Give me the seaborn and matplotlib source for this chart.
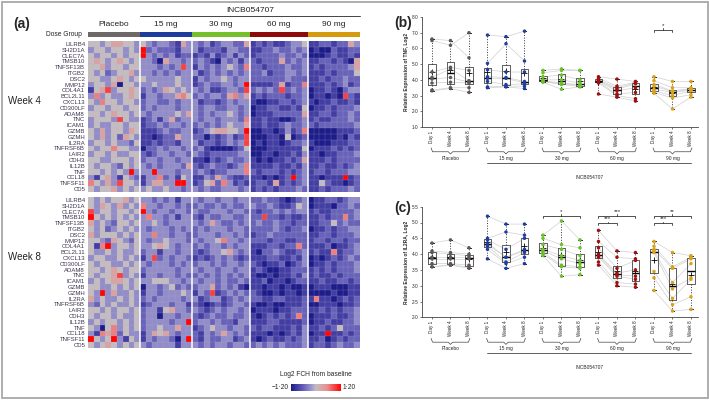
import numpy as np
import pandas as pd
import matplotlib
matplotlib.use("Agg")
import matplotlib.pyplot as plt
import matplotlib.transforms as mtransforms
from matplotlib.colors import LinearSegmentedColormap, ListedColormap
from matplotlib.patches import Rectangle
import seaborn as sns

sns.set_theme(style="white")
plt.rcParams['font.family'] = ['Liberation Sans', 'DejaVu Sans']

# ---------------- data ----------------
genes = ["LILRB4", "SH2D1A", "CLEC7A", "TMSB10", "TNFSF13B", "ITGB2", "DSC2", "MMP12",
         "COL4A1", "BCL2L11", "CXCL13", "CD300LF", "ADAM8", "TNC", "ICAM1", "GZMB", "GZMH",
         "IL2RA", "TNFRSF6B", "LAIR2", "CDH3", "IL12B", "TNF", "CCL18", "TNFSF11", "CD5"]
doses = ["Placebo", "15 mg", "30 mg", "60 mg", "90 mg"]
dose_n = [9, 9, 10, 10, 9]
dose_colors = ["#6f6868", "#1d3c9c", "#74bf2b", "#8e0a0a", "#d49b0e"]
point_colors = ["#5e5858", "#1f3da0", "#6cc02a", "#a01010", "#dba21a"]
times = ["Day 1", "Week 4", "Week 8"]

# heatmap levels: 0 = -1.2 (dark blue), 4 = 0 (grey), 8 = +1.2 (red)
wk4_rows = [
    "443455443|432332153|3231233225|1212112334|112212253",
    "344344343|823222133|3122213322|1122322323|010021122",
    "434434344|832323122|1213123132|1222232232|000121121",
    "454345434|332053323|2321032313|2122252323|112212105",
    "445344344|333232373|1323234326|2212223223|121222235",
    "434234453|332323233|3123232323|2231223323|111212224",
    "443345434|433333433|1323343233|2222223222|112122322",
    "344350443|334333433|1232233238|1111251226|111212312",
    "145734454|232354343|3231123327|2323272323|011210233",
    "363433454|133233564|2323325635|1212221223|011010721",
    "436443443|233223233|3122123233|1001122123|101121121",
    "344344344|232333233|3233223323|0112211214|011212223",
    "443454434|323333435|3232334323|0111222225|112212232",
    "344437433|123135233|3233233326|1121100123|121122232",
    "343344344|122323323|2323234335|1121123223|212222223",
    "435344354|111232233|1234554438|0011013126|000001112",
    "435342543|110122533|2202123127|0001104012|000001021",
    "344343324|112122133|3122123237|0101101223|100011122",
    "434464433|022323323|2310000124|0001111114|011121212",
    "344343344|212332332|3212222233|0011011213|110112223",
    "443344434|233233233|1102123223|1010112125|111212222",
    "434432434|323233325|2123221236|1111211213|112112123",
    "443434383|338333233|2321223336|2122212123|122122233",
    "314531432|133623143|1132532112|1101012823|110111812",
    "643537443|135533883|1245263121|1221512123|114211012",
    "434453434|343343323|3232233323|1212122232|112122232",
]
wk8_rows = [
    "434344534|332323133|3233233233|2232210123|011221233",
    "435435343|633233232|2322323223|3223211243|011102232",
    "734434434|832332332|3223332332|2122323233|121122223",
    "843434343|363323133|2132233223|2272212112|112122623",
    "534324434|334323333|3235322323|2322322122|112242322",
    "434234343|323332323|2323332332|2222321223|011212233",
    "534443434|336332332|2333233232|1223222222|112212223",
    "443254324|323343332|3233463323|2221221122|122122122",
    "416834434|334543233|2323323233|1112212262|111201123",
    "433434334|233133233|2123345323|1022321123|121161223",
    "344334343|137232332|1212323212|1112211213|010121232",
    "434433434|323332323|2332323323|2101120123|011212223",
    "443454344|233333233|3233233233|1210011222|121212223",
    "434457343|133233232|2323232323|1001011213|121121222",
    "343455434|334443323|3233232232|1120110122|112112212",
    "443343434|033234232|2335232310|1101101001|011100011",
    "438353343|133233343|1327123232|2100101101|000010011",
    "534334343|232333323|3123312323|2211221112|161101212",
    "324343343|123332331|2101212332|1001001112|001110112",
    "443434434|233145332|3212323323|0111011222|112121223",
    "434434334|233033233|2123223223|1012121262|011121123",
    "343443434|233332338|2332322133|1112211112|011211223",
    "430463434|233433533|1234332332|2122111213|112124222",
    "316562433|135453233|2132353232|1110101213|011811212",
    "843483143|132332038|2132233123|1012112123|112012122",
    "434543434|323333133|3232332332|2323232223|122123223",
]

# relative expression, one list per time point (Day 1, Week 4, Week 8), subjects in the same order
tnf_placebo = [[6.6, 6.5, 4.5, 4.15, 4.05, 3.8, 3.35, 3.3],
               [6.5, 6.2, 4.8, 4.7, 4.15, 3.85, 3.5, 3.45],
               [5.4, 7.0, 4.6, 3.95, 3.85, 3.8, 3.5, 3.2]]
tnf_15 = [[6.85, 5.05, 4.65, 4.2, 4.1, 3.9, 3.55, 3.5],
          [6.75, 6.3, 4.5, 4.15, 4.1, 3.7, 3.6, 3.55],
          [7.1, 5.2, 4.5, 3.9, 3.8, 3.75, 3.6, 3.45]]
tnf_30 = [[4.6, 4.45, 4.2, 4.0, 3.95, 3.9, 3.9, 3.85],
          [4.7, 4.6, 4.3, 4.0, 3.8, 3.75, 3.7, 3.4],
          [4.6, 4.6, 4.0, 3.8, 3.7, 3.65, 3.6, 3.55]]
tnf_60 = [[4.2, 4.1, 4.0, 3.95, 3.9, 3.85, 3.8, 3.1],
          [4.05, 3.6, 3.5, 3.4, 3.3, 3.1, 3.0, 2.9],
          [3.9, 3.85, 3.8, 3.75, 3.5, 3.2, 2.8, 2.65]]
tnf_90 = [[4.2, 3.95, 3.7, 3.6, 3.4, 3.3, 3.2, 3.15],
          [3.9, 3.5, 3.3, 3.25, 3.2, 3.0, 2.85, 2.15],
          [3.9, 3.5, 3.45, 3.4, 3.35, 3.3, 3.05, 2.9]]

il2ra_placebo = [[4.35, 4.1, 4.05, 3.9, 3.85, 3.7, 3.6, 3.6],
                 [4.45, 4.05, 4.0, 3.9, 3.85, 3.7, 3.65, 3.65],
                 [4.2, 4.0, 3.95, 3.9, 3.85, 3.65, 3.6, 3.55]]
il2ra_15 = [[5.2, 4.5, 4.45, 4.35, 4.3, 4.25, 4.15, 3.85],
            [4.95, 4.7, 4.15, 3.9, 3.9, 3.75, 3.7, 3.55],
            [4.95, 4.6, 4.5, 4.15, 4.1, 4.05, 3.9, 3.7]]
il2ra_30 = [[4.6, 4.5, 4.3, 4.15, 4.1, 4.05, 4.0, 3.95],
            [5.05, 4.3, 4.15, 3.95, 3.85, 3.65, 3.6, 3.3],
            [4.45, 4.2, 3.95, 3.8, 3.7, 3.6, 3.55, 3.35]]
il2ra_60 = [[4.75, 4.4, 4.2, 4.0, 3.95, 3.9, 3.75, 3.65],
            [4.1, 3.9, 3.55, 3.4, 3.35, 3.3, 3.1, 3.0],
            [4.05, 3.85, 3.8, 3.5, 3.3, 3.2, 3.05, 2.95]]
il2ra_90 = [[4.4, 4.25, 4.15, 4.1, 4.05, 3.45, 3.25, 2.85],
            [4.05, 3.6, 3.55, 3.1, 2.9, 2.6, 2.4, 2.2],
            [3.95, 3.9, 3.85, 3.7, 3.25, 3.2, 2.65, 2.25]]

# significance: (first position, second position, bar height, stars)
tnf_sig = [(12, 13, 7.15, "*")]
il2ra_sig = [(6, 8, 5.2, "*"), (9, 11, 5.2, "***"), (9, 10, 4.97, "***"),
             (12, 14, 5.2, "**"), (12, 13, 4.97, "***")]

# ---------------- figure ----------------
W, H = 709, 400
fig = plt.figure(figsize=(W / 100, H / 100), dpi=100)
fig.patch.set_facecolor("white")


def px_axes(x0, y0, x1, y1):
    return fig.add_axes([x0 / W, 1 - y1 / H, (x1 - x0) / W, (y1 - y0) / H])


def level_matrix(rows):
    return np.array([[(int(c) - 4) * 0.3 for c in r.replace("|", "")] for r in rows])


cmap = LinearSegmentedColormap.from_list(
    "fch", [(0.0, "#1c1c8a"), (0.22, "#5e58b6"), (0.4, "#9a94cc"),
            (0.5, "#c4bcc0"), (0.72, "#e89090"), (1.0, "#ff0505")])
label_color = "#3d3550"
bounds = np.cumsum(dose_n)

# dose group bar
ax_g = px_axes(88, 32, 360, 37)
codes = np.repeat(np.arange(len(doses)), dose_n)[None, :]
sns.heatmap(codes, ax=ax_g, cmap=ListedColormap(dose_colors), cbar=False,
            xticklabels=False, yticklabels=False)
starts = np.concatenate([[0], bounds[:-1]])
for d, s, n in zip(doses, starts, dose_n):
    ax_g.text(s + n / 2, -1.6, d, ha="center", va="center", fontsize=6, color="#222222")
ax_g.plot([bounds[0], bounds[-1]], [-3.2, -3.2], color="#444444", lw=0.7, clip_on=False)
ax_g.text((bounds[0] + bounds[-1]) / 2, -4.4, "INCB054707", ha="center", va="center",
          fontsize=6, color="#222222")
ax_g.text(-1.0, 0.5, "Dose Group", ha="right", va="center", fontsize=4.8, color="#222222")

cax = px_axes(291, 384, 341, 391)
for rows, (y0, y1), wk in [(wk4_rows, (41, 192), "Week 4"), (wk8_rows, (197, 348), "Week 8")]:
    ax = px_axes(88, y0, 360, y1)
    mat = pd.DataFrame(level_matrix(rows), index=genes)
    last = wk == "Week 8"
    sns.heatmap(mat, ax=ax, cmap=cmap, vmin=-1.2, vmax=1.2, linewidths=0,
                xticklabels=False, yticklabels=False,
                cbar=last, cbar_ax=cax if last else None,
                cbar_kws={"orientation": "horizontal"} if last else None)
    # faint cell grid
    for i in range(1, len(genes)):
        ax.axhline(i, color="#b8b4c8", lw=0.25, alpha=0.6)
    for j in range(1, bounds[-1]):
        ax.axvline(j, color="#b8b4c8", lw=0.25, alpha=0.6)
    for b in bounds[:-1]:
        ax.axvline(b, color="white", lw=1.1)
    ax.set_yticks(np.arange(len(genes)) + 0.5)
    ax.set_yticklabels(genes, fontsize=4.3, color=label_color)
    ax.tick_params(axis="y", length=0, pad=2)
    ax.set_ylabel("")
    fig.text(24 / W, 1 - ((y0 + y1) / 2 - 15) / H, wk, ha="center", va="center",
             fontsize=7, color="#222222")

cax.set_xticks([])
cax.set_yticks([])
for sp in cax.spines.values():
    sp.set_visible(False)
cax.text(-0.04, 0.5, "\u22121\u00b720", transform=cax.transAxes, ha="right", va="center", fontsize=4.8)
cax.text(1.04, 0.5, "1\u00b720", transform=cax.transAxes, ha="left", va="center", fontsize=4.8)
cax.text(0.5, 2.3, "Log2 FCH from baseline", transform=cax.transAxes, ha="center",
         va="center", fontsize=4.8)

fig.text(22 / W, 1 - 24 / H, "(a)", fontsize=10, fontweight="bold", ha="center", va="center")


# ---------------- box panels ----------------
def draw_box_panel(ax, groups, ylim, yticks, ylabel, sigs, tick_h):
    recs = []
    for gi, (dose, tp) in enumerate(zip(doses, groups)):
        for ti, vals in enumerate(tp):
            for si, v in enumerate(vals):
                recs.append({"dose": dose, "pos": gi * 3 + ti, "value": v,
                             "subj": f"{dose}-{si}"})
    df = pd.DataFrame(recs)
    order = list(range(15))

    sns.lineplot(data=df, x="pos", y="value", units="subj", estimator=None,
                 color="#d0d0d0", lw=0.5, ax=ax, legend=False, zorder=1)
    sns.boxplot(data=df, x="pos", y="value", order=order, ax=ax, fill=False,
                color="#5c5c5c", linewidth=0.7, width=0.42, whis=(0, 100),
                showfliers=False, showmeans=True,
                meanprops=dict(marker="+", markeredgecolor="black", markerfacecolor="black",
                               markersize=4, markeredgewidth=0.6),
                medianprops=dict(color="black", lw=1.0),
                whiskerprops=dict(ls=":", color="#333333", lw=0.7),
                capprops=dict(color="black", lw=0.7))
    sns.stripplot(data=df, x="pos", y="value", order=order, hue="dose", hue_order=doses,
                  palette=point_colors, jitter=False, size=2.5, linewidth=0, ax=ax,
                  legend=False, zorder=3)

    ax.set_xlim(-0.54, 14.38)
    ax.set_ylim(*ylim)
    ax.set_yticks(yticks)
    ax.set_yticklabels([f"{t:.1f}".replace(".", "\u00b7") for t in yticks], fontsize=3.3)
    ax.set_xticks(order)
    ax.set_xticklabels(times * 5, rotation=90, fontsize=3.3)
    ax.set_xlabel("")
    ax.set_ylabel(ylabel, fontsize=3.5, fontweight="bold", labelpad=2)
    for side in ["top", "right"]:
        ax.spines[side].set_visible(False)
    for side in ["left", "bottom"]:
        ax.spines[side].set_color("#444444")
        ax.spines[side].set_linewidth(0.6)
    ax.tick_params(axis="both", length=1.5, width=0.5, pad=1, color="#444444",
                   left=True, bottom=True)

    trans = mtransforms.blended_transform_factory(ax.transData, ax.transAxes)
    for gi, dose in enumerate(doses):
        x0, x1 = gi * 3 - 0.05, gi * 3 + 2.05
        xc = (x0 + x1) / 2
        ax.plot([x0, x0 + 0.08, xc - 0.12, xc, xc + 0.12, x1 - 0.08, x1],
                [-0.19, -0.225, -0.225, -0.245, -0.225, -0.225, -0.19],
                transform=trans, color="#444444", lw=0.5, clip_on=False)
        ax.text(xc, -0.262, dose, transform=trans, ha="center", va="top", fontsize=3.5)
    ax.plot([3, 14], [-0.327, -0.327], transform=trans, color="#444444", lw=0.6, clip_on=False)
    ax.text(8.5, -0.455, "INCB054707", transform=trans, ha="center", va="center", fontsize=3.5)

    for p0, p1, y, stars in sigs:
        ax.plot([p0, p0, p1, p1], [y - tick_h, y, y, y - tick_h], color="#333333", lw=0.6)
        xc = (p0 + p1) / 2
        ax.plot([xc, xc], [y, y + tick_h], color="#333333", lw=0.6)
        ax.text(xc, y + tick_h * 1.3, stars, ha="center", va="bottom", fontsize=4.5)


ax_b = px_axes(422, 17, 698, 127)
draw_box_panel(ax_b, [tnf_placebo, tnf_15, tnf_30, tnf_60, tnf_90], (1, 8),
               np.arange(1, 9, 1.0), "Relative Expression of TNF, Log2", tnf_sig, 0.12)
ax_c = px_axes(422, 206.7, 698, 317.3)
draw_box_panel(ax_c, [il2ra_placebo, il2ra_15, il2ra_30, il2ra_60, il2ra_90], (2, 5.5),
               np.arange(2, 5.6, 0.5), "Relative Expression of IL2RA, Log2", il2ra_sig, 0.06)

fig.text(403 / W, 1 - 23 / H, "(b)", fontsize=10, fontweight="bold", ha="center", va="center")
fig.text(403 / W, 1 - 208 / H, "(c)", fontsize=10, fontweight="bold", ha="center", va="center")

fig.patches.append(Rectangle((1.5 / W, 2.5 / H), (W - 3) / W, (H - 4) / H,
                             transform=fig.transFigure, fill=False,
                             edgecolor="#a8a8a8", lw=1.3))

fig.savefig("out.png", dpi=100)
